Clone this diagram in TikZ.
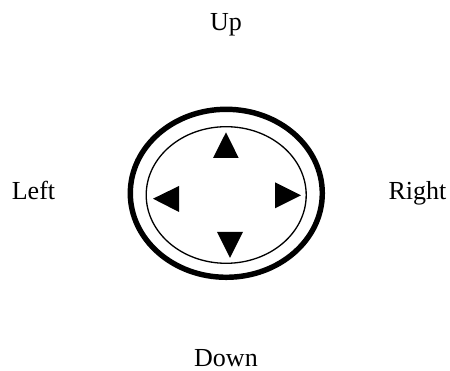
\documentclass[tikz,border=0pt]{standalone}
\usepackage{fontspec}
\setmainfont{Liberation Serif}
\makeatletter
\newcommand\padlabel{\@setfontsize\padlabel{14.8pt}{17pt}}
\makeatother
\usetikzlibrary{positioning}

\begin{document}
\begin{tikzpicture}[every node/.style={font=\padlabel, inner sep=0pt, anchor=base}]
    \useasboundingbox (0,0) rectangle (9,7.42);

    % =================== ring ===================
    \draw[line width=3.1pt] (4.526,3.554) ellipse (1.92 and 1.68);
    \draw[line width=0.75pt] (4.524,3.52) ellipse (1.6 and 1.366);

    % =================== triangles ===================
    % apex, then the two base corners
    \fill (4.52,4.774) -- (4.26,4.26) -- (4.774,4.26) -- cycle;
    \fill (3.06,3.446) -- (3.58,3.70) -- (3.58,3.18) -- cycle;
    \fill (6.02,3.514) -- (5.5,3.774) -- (5.5,3.254) -- cycle;
    \fill (4.6,2.26) -- (4.34,2.78) -- (4.86,2.78) -- cycle;

    % =================== labels ===================
    \node (up) at (4.52,6.8) {Up};
    \node (left) at (0.67,3.42) {Left};
    \node (right) at (8.35,3.42) {Right};
    \node (down) at (4.52,0.08) {Down};
  \end{tikzpicture}
\end{document}
